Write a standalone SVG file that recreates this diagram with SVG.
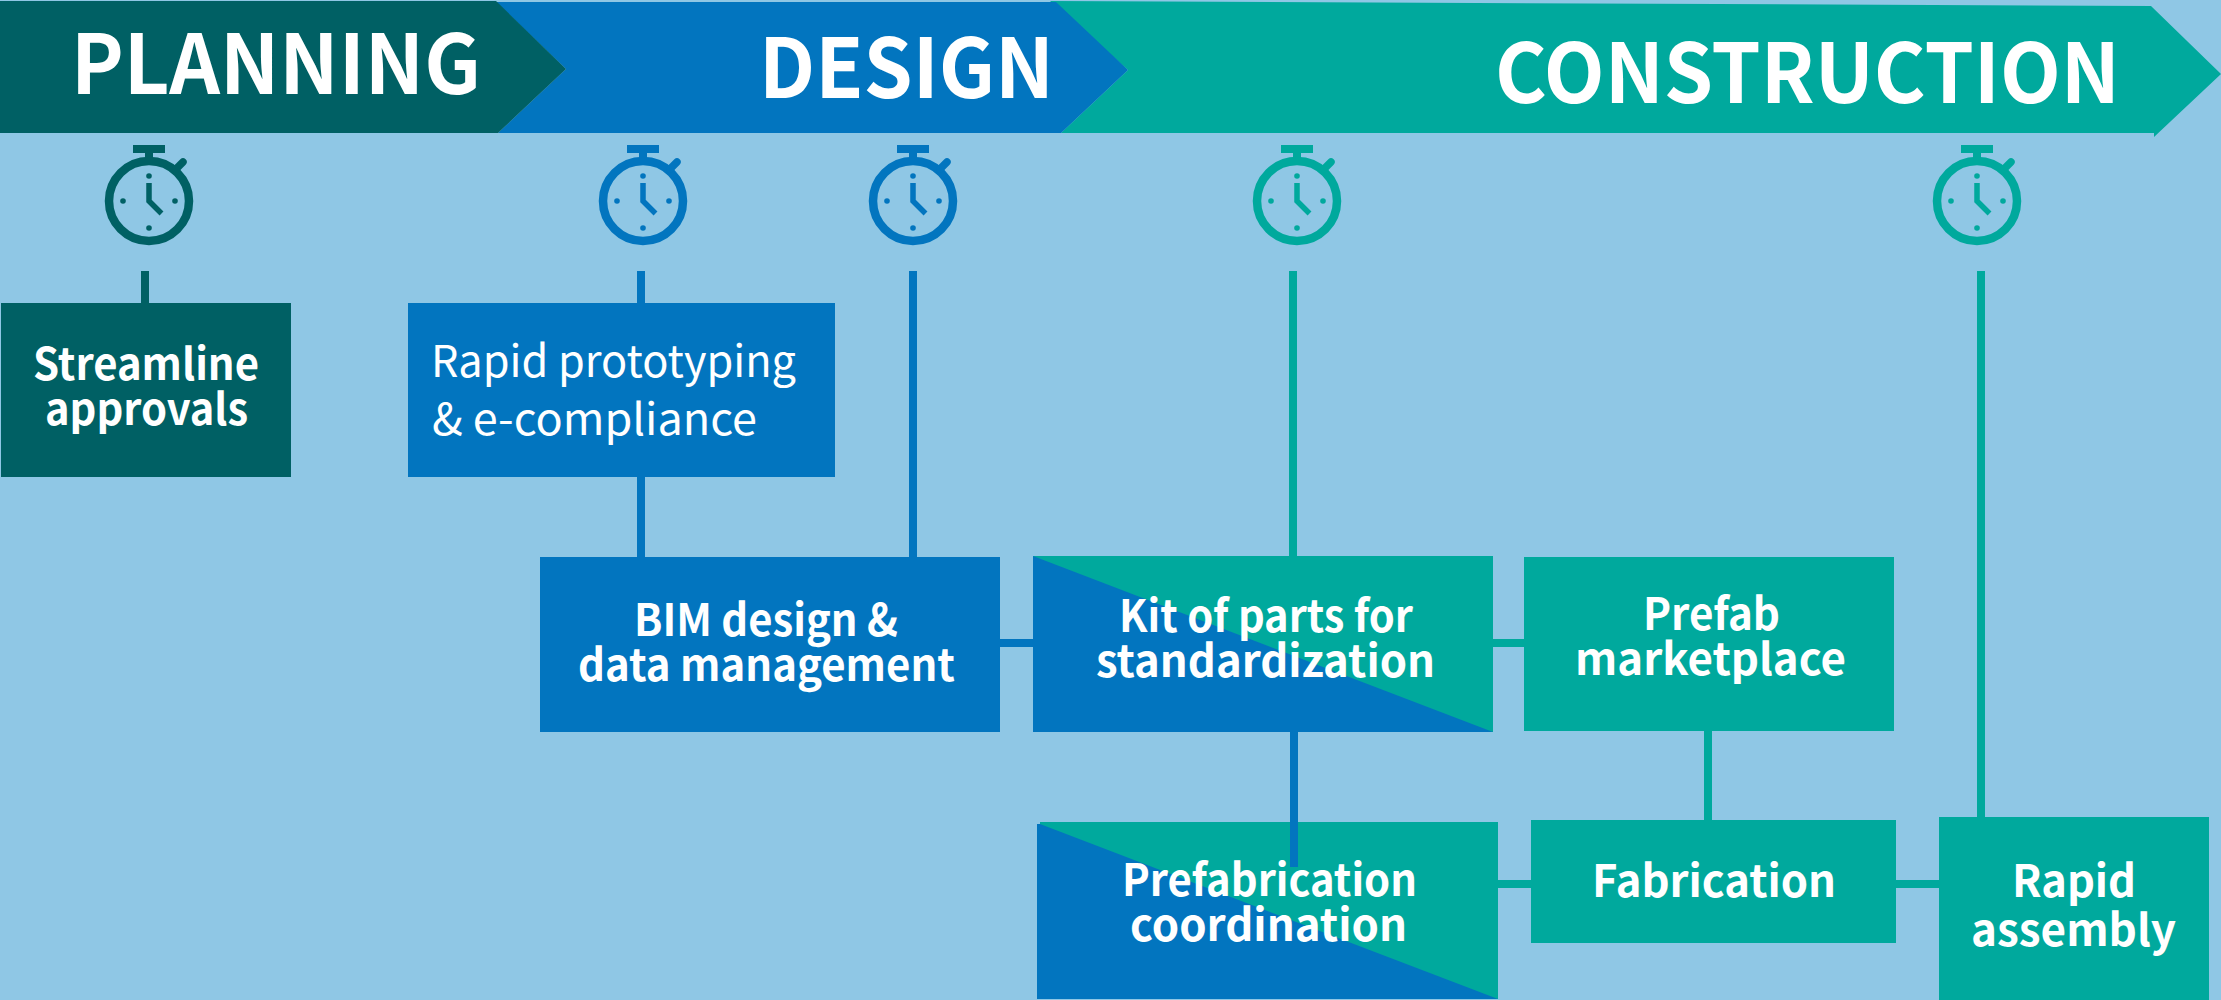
<svg xmlns="http://www.w3.org/2000/svg" width="2221" height="1000" viewBox="0 0 2221 1000">
<style>
text{font-family:"Noto Sans CJK SC","Noto Sans",sans-serif;fill:#fff}
.h{font-size:82px;font-weight:700}
.b{font-size:44px;font-weight:700}
.r{font-size:44px;font-weight:400}
.pl{color:#006064}.de{color:#0275BF}.co{color:#00A99D}
</style>
<defs>
<g id="watch">
<circle cx="0" cy="0" r="40" fill="none" stroke="currentColor" stroke-width="8.5"/>
<rect x="-16" y="-56" width="32" height="8" fill="currentColor"/>
<rect x="-4" y="-50" width="8" height="10" fill="currentColor"/>
<path d="M27-32 34-39" stroke="currentColor" stroke-width="7.5" stroke-linecap="round" fill="none"/>
<circle cx="0" cy="-25" r="2.8" fill="currentColor"/><circle cx="0" cy="27" r="2.8" fill="currentColor"/>
<circle cx="-26" cy="0" r="2.8" fill="currentColor"/><circle cx="26" cy="0" r="2.8" fill="currentColor"/>
<path d="M0-18V0L12.500 12.500" fill="none" stroke="currentColor" stroke-width="5.500"/>
</g>
</defs>
<rect width="2221" height="1000" fill="#8FC7E5"/>
<g id="connectors">
<rect x="141" y="271" width="8" height="32" fill="#006064"/>
<rect x="637" y="271" width="8" height="286" fill="#0275BF"/>
<rect x="909" y="271" width="8" height="286" fill="#0275BF"/>
<rect x="1289" y="271" width="8" height="286" fill="#00A99D"/>
<rect x="1977" y="271" width="8" height="546" fill="#00A99D"/>
<rect x="1000" y="639" width="34" height="8" fill="#0275BF"/>
<rect x="1493" y="639" width="31" height="8" fill="#00A99D"/>
<rect x="1704" y="731" width="8" height="90" fill="#00A99D"/>
<rect x="1498" y="880" width="33" height="8" fill="#00A99D"/>
<rect x="1896" y="880" width="43" height="8" fill="#00A99D"/>
</g>
<g id="banner-construction"><path d="M1050 1 2151 6 2221 74 2154 137V133H1061L1128 70Z" fill="#00A99D"/>
<text class="h" x="1495" y="103" textLength="625" lengthAdjust="spacingAndGlyphs">CONSTRUCTION</text></g>
<g id="banner-design"><path d="M496 2H1056L1128 70 1061 133H498L566 69Z" fill="#0275BF"/>
<text class="h" x="759" y="98" textLength="295" lengthAdjust="spacingAndGlyphs">DESIGN</text></g>
<g id="banner-planning"><path d="M0 1H496L566 69 498 133H0Z" fill="#006064"/>
<text class="h" x="71" y="94" textLength="410" lengthAdjust="spacingAndGlyphs">PLANNING</text></g>
<g id="watch-1" class="pl"><use href="#watch" x="149" y="201"/></g>
<g id="watch-2" class="de"><use href="#watch" x="643" y="201"/></g>
<g id="watch-3" class="de"><use href="#watch" x="913" y="201"/></g>
<g id="watch-4" class="co"><use href="#watch" x="1297" y="201"/></g>
<g id="watch-5" class="co"><use href="#watch" x="1977" y="201"/></g>
<g id="streamline"><rect x="1" y="303" width="290" height="174" fill="#006064"/>
<text class="b" x="33" y="380" textLength="226" lengthAdjust="spacingAndGlyphs">Streamline</text>
<text class="b" x="45" y="425" textLength="203" lengthAdjust="spacingAndGlyphs">approvals</text></g>
<g id="rapid-prototyping"><rect x="408" y="303" width="427" height="174" fill="#0275BF"/>
<text class="r" x="431" y="377" textLength="365" lengthAdjust="spacingAndGlyphs">Rapid prototyping</text>
<text class="r" x="432" y="435" textLength="325" lengthAdjust="spacingAndGlyphs">&amp; e-compliance</text></g>
<g id="bim"><rect x="540" y="557" width="460" height="175" fill="#0275BF"/>
<text class="b" x="634" y="636" textLength="264" lengthAdjust="spacingAndGlyphs">BIM design &amp;</text>
<text class="b" x="578" y="681" textLength="377" lengthAdjust="spacingAndGlyphs">data management</text></g>
<g id="kit"><rect x="1033" y="556" width="460" height="176" fill="#00A99D"/><path d="M1033 556 1493 732H1033Z" fill="#0275BF"/>
<text class="b" x="1119" y="632" textLength="294" lengthAdjust="spacingAndGlyphs">Kit of parts for</text>
<text class="b" x="1096" y="677" textLength="339" lengthAdjust="spacingAndGlyphs">standardization</text></g>
<g id="prefab-marketplace"><rect x="1524" y="557" width="370" height="174" fill="#00A99D"/>
<text class="b" x="1643" y="630" textLength="137" lengthAdjust="spacingAndGlyphs">Prefab</text>
<text class="b" x="1575" y="675" textLength="271" lengthAdjust="spacingAndGlyphs">marketplace</text></g>
<g id="prefab-coordination"><rect x="1040" y="822" width="458" height="177" fill="#00A99D"/><path d="M1037 824 1040 824 1498 999H1037Z" fill="#0275BF"/>
<rect x="1290" y="732" width="8" height="135" fill="#0275BF"/>
<text class="b" x="1122" y="896" textLength="295" lengthAdjust="spacingAndGlyphs">Prefabrication</text>
<text class="b" x="1130" y="941" textLength="277" lengthAdjust="spacingAndGlyphs">coordination</text></g>
<g id="fabrication"><rect x="1531" y="820" width="365" height="123" fill="#00A99D"/>
<text class="b" x="1592" y="897" textLength="244" lengthAdjust="spacingAndGlyphs">Fabrication</text></g>
<g id="rapid-assembly"><rect x="1939" y="817" width="270" height="183" fill="#00A99D"/>
<text class="b" x="2012" y="897" textLength="124" lengthAdjust="spacingAndGlyphs">Rapid</text>
<text class="b" x="1971" y="946" textLength="205" lengthAdjust="spacingAndGlyphs">assembly</text></g>
</svg>
